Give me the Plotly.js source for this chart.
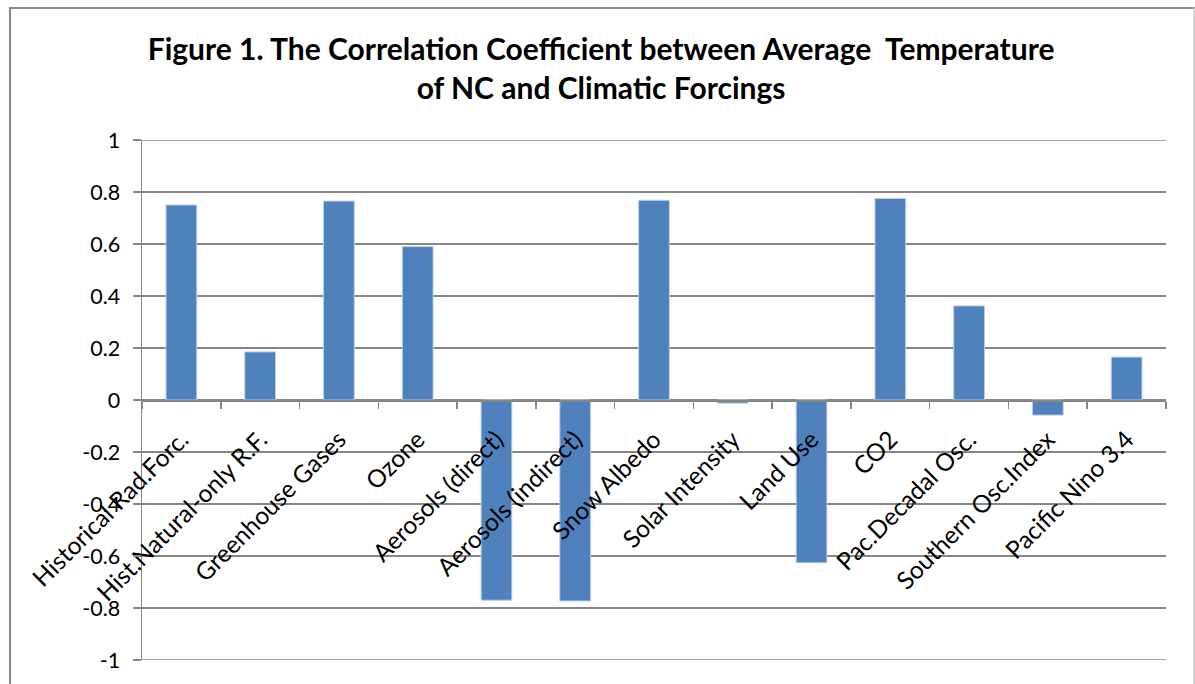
<!DOCTYPE html>
<html>
<head>
<meta charset="utf-8">
<script src="https://cdn.plot.ly/plotly-3.0.1.min.js"></script>
<style>
  html, body { margin: 0; padding: 0; background: #ffffff; }
  #chart { position: absolute; left: 0; top: 0; width: 1195px; height: 684px; }
  #frame { position: absolute; left: 9px; top: 7px; width: 1182px; height: 700px;
           border-top: 2px solid #8a8a8a; border-left: 2px solid #8a8a8a;
           border-right: 2px solid #d6d6d6; pointer-events: none; }
</style>
</head>
<body>
<div id="chart"></div>
<div id="frame"></div>
<script>
const categories = [
  "Historical Rad.Forc.",
  "Hist.Natural-only R.F.",
  "Greenhouse Gases",
  "Ozone",
  "Aerosols (direct)",
  "Aerosols (indirect)",
  "Snow Albedo",
  "Solar Intensity",
  "Land Use",
  "CO2",
  "Pac.Decadal Osc.",
  "Southern Osc.Index",
  "Pacific Nino 3.4"
];
const correlation = [0.75, 0.185, 0.765, 0.59, -0.77, -0.773, 0.768, -0.012, -0.626, 0.775, 0.362, -0.058, 0.165];
const yTickValues = [-1, -0.8, -0.6, -0.4, -0.2, 0, 0.2, 0.4, 0.6, 0.8, 1];
const yTickLabels = ["-1", "-0.8", "-0.6", "-0.4", "-0.2", "0", "0.2", "0.4", "0.6", "0.8", "1"];
const chartTitle = "Figure 1. The Correlation Coefficient between Average  Temperature<br>of NC and Climatic Forcings";

const gridGray = "#868686";
const fontFamily = "Lato, 'Noto Sans', sans-serif";

const trace = {
  type: "bar",
  x: categories,
  y: correlation,
  marker: { color: "#4F81BD", line: { color: "#B9CDE5", width: 1 } },
  hoverinfo: "x+y"
};

// gridlines at the range ends (Plotly skips gridlines lying on the plot edge)
const yMin = yTickValues[0];
const yMax = yTickValues[yTickValues.length - 1];
const edgeGrid = [yMin, yMax].map(v => ({
  type: "line", xref: "paper", yref: "y",
  x0: 0, x1: 1, y0: v, y1: v,
  line: { color: gridGray, width: 1.5 },
  layer: "below"
}));

const layout = {
  width: 1195,
  height: 684,
  margin: { l: 142, r: 29, t: 140, b: 24, pad: 0 },
  paper_bgcolor: "rgba(0,0,0,0)",
  plot_bgcolor: "#ffffff",
  showlegend: false,
  bargap: 0.61,
  font: { family: fontFamily, color: "#000000" },
  title: {
    text: chartTitle,
    font: { family: fontFamily, size: 30, color: "#000000", weight: "bold" },
    xref: "container", x: 0.503, xanchor: "center",
    yref: "container", y: 1 - 60 / 684, yanchor: "top"
  },
  shapes: edgeGrid,
  xaxis: {
    type: "category",
    anchor: "free",
    position: 0.5,
    showline: true,
    linecolor: gridGray,
    linewidth: 1.5,
    ticks: "outside",
    tickson: "boundaries",
    ticklen: 7,
    tickwidth: 1.5,
    tickcolor: gridGray,
    tickangle: -45,
    ticklabelstandoff: 14,
    tickfont: { family: fontFamily, size: 24.5, color: "#000000" },
    showgrid: false,
    zeroline: false,
    fixedrange: true
  },
  yaxis: {
    range: [yMin, yMax],
    tickmode: "array",
    tickvals: yTickValues,
    ticktext: yTickLabels,
    showgrid: true,
    gridcolor: gridGray,
    gridwidth: 1.5,
    showline: true,
    linecolor: gridGray,
    linewidth: 1.5,
    ticks: "outside",
    ticklen: 8,
    tickwidth: 1.5,
    tickcolor: gridGray,
    ticklabelstandoff: 8,
    tickfont: { family: fontFamily, size: 21.5, color: "#000000" },
    zeroline: false,
    fixedrange: true
  }
};

Plotly.newPlot("chart", [trace], layout, { displayModeBar: false, staticPlot: true });
</script>
</body>
</html>
